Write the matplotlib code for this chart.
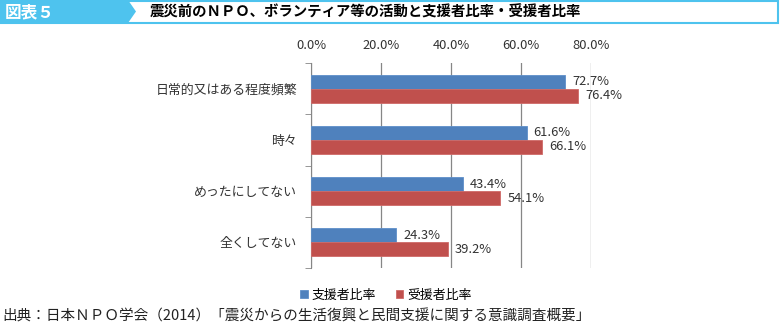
import matplotlib
matplotlib.use("Agg")
import matplotlib.pyplot as plt
from matplotlib.patches import Polygon, Rectangle
import numpy as np

plt.rcParams['font.family'] = ['Noto Sans CJK JP', 'DejaVu Sans']

categories = ["日常的又はある程度頻繁", "時々", "めったにしてない", "全くしてない"]
supporters = [72.7, 61.6, 43.4, 24.3]
recipients = [76.4, 66.1, 54.1, 39.2]
series_names = ["支援者比率", "受援者比率"]
xticks = [0, 20, 40, 60, 80]

blue = "#4F81BD"
red = "#C0504D"
cyan = "#4EC3EE"

fig = plt.figure(figsize=(7.8, 3.27), dpi=100)
W, H = 780, 327

# header band
hdr = fig.add_axes([0, 0, 1, 1])
hdr.set_xlim(0, W)
hdr.set_ylim(H, 0)
hdr.axis("off")
hdr.add_patch(Rectangle((1, 1), W - 3, 22, facecolor="white", edgecolor=cyan, lw=1.5))
hdr.add_patch(Polygon([(0, 0), (128, 0), (136, 11.5), (128, 23), (0, 23)],
                      closed=True, facecolor=cyan, edgecolor="none"))
hdr.text(5, 12, "図表５", color="white", fontsize=12, va="center", ha="left", fontweight="bold")
hdr.text(150, 12, "震災前のＮＰＯ、ボランティア等の活動と支援者比率・受援者比率",
         color="black", fontsize=10.4, va="center", ha="left", fontweight="bold")
hdr.text(2, 316, "出典：日本ＮＰＯ学会（2014）「震災からの生活復興と民間支援に関する意識調査概要」",
         fontsize=10.5, va="center", ha="left", color="#222222")

# chart
ax = fig.add_axes([311 / W, 1 - 268 / H, 280 / W, 205 / H])
y = np.arange(len(categories))
h = 0.275
b1 = ax.barh(y - h / 2, supporters, height=h, color=blue, edgecolor="#5E8FC9", lw=0.6,
             label=series_names[0], zorder=3)
b2 = ax.barh(y + h / 2, recipients, height=h, color=red, edgecolor="#CF6A67", lw=0.6,
             label=series_names[1], zorder=3)
for bars, vals in ((b1, supporters), (b2, recipients)):
    for bar, v in zip(bars, vals):
        ax.annotate(f"{v:.1f}%", (v, bar.get_y() + bar.get_height() / 2),
                    xytext=(5, 0), textcoords="offset points",
                    va="center", ha="left", fontsize=9.3, color="#333333")

ax.set_xlim(0, 80)
ax.set_ylim(len(categories) - 0.5, -0.5)
ax.set_xticks(xticks)
ax.set_xticklabels([f"{t:.1f}%" for t in xticks], fontsize=9.3, color="#333333")
ax.xaxis.tick_top()
ax.tick_params(axis="x", length=0, pad=8)
ax.set_yticks(y)
ax.set_yticklabels(categories, fontsize=9.3, color="#333333")
ax.set_yticks(np.arange(len(categories) + 1) - 0.5, minor=True)
ax.tick_params(axis="y", which="major", length=0, pad=10)
ax.tick_params(axis="y", which="minor", length=4, color="#868686")
ax.grid(axis="x", color="#868686", lw=0.9, zorder=0)
for s in ("top", "right", "bottom"):
    ax.spines[s].set_visible(False)
ax.spines["left"].set_color("#868686")

fig.legend(handles=[b1, b2], labels=series_names, loc="center", ncol=2,
           bbox_to_anchor=(386 / W, 1 - 295 / H), frameon=False, fontsize=9.3,
           handlelength=0.6, handleheight=0.6, handletextpad=0.3, columnspacing=1.5)

fig.savefig("out.png", dpi=100)
